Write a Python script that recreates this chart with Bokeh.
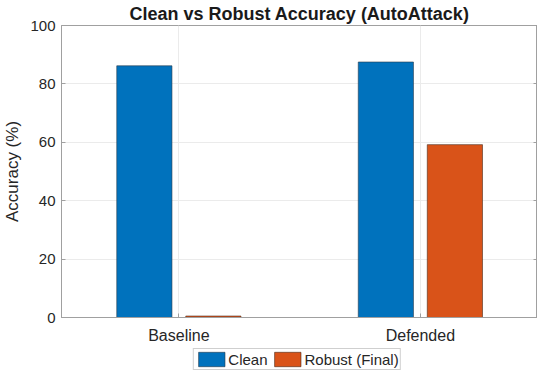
from bokeh.plotting import figure
from bokeh.layouts import column
from bokeh.models import (ColumnDataSource, FixedTicker, LinearAxis, Legend, LegendItem, Range1d)
from bokeh.transform import dodge
from bokeh.embed import file_html
from bokeh.resources import INLINE

categories = ["Baseline", "Defended"]
clean = [86.2, 87.5]
robust = [0.5, 59.2]
y_ticks = [0, 20, 40, 60, 80, 100]
series_names = ["Clean", "Robust (Final)"]

xs = list(range(1, len(categories) + 1))
src = ColumnDataSource(dict(x=xs, clean=clean, robust=robust))

FONT = "Liberation Sans"
TXT = "#262626"
AX = "#a0a0a0"
C_CLEAN = "#0072BD"
C_ROB = "#D95319"

p = figure(frame_width=476, frame_height=292, output_backend="svg", toolbar_location=None,
           x_range=Range1d(0.514, 2.485), y_range=Range1d(0, 100),
           min_border_left=0, min_border_right=0, min_border_top=0, min_border_bottom=0,
           title="Clean vs Robust Accuracy (AutoAttack)")
p.title.align = "center"
p.title.text_font = FONT
p.title.text_font_size = "18px"
p.title.text_font_style = "bold"
p.title.text_color = "#1a1a1a"
p.title.standoff = 3
p.title.offset = 0

p.outline_line_color = AX
p.outline_line_width = 1

w = 0.2286
r1 = p.vbar(x=dodge("x", -0.1429), top="clean", width=w, source=src,
            fill_color=C_CLEAN, line_color="#2a3a4a", line_width=0.6)
r2 = p.vbar(x=dodge("x", 0.1429), top="robust", width=w, source=src,
            fill_color=C_ROB, line_color="#4a2a1a", line_width=0.6)

xa = p.xaxis[0]
xa.ticker = FixedTicker(ticks=xs)
xa.major_label_overrides = {i + 1: c for i, c in enumerate(categories)}
xa.axis_label_standoff = 0
ya = p.yaxis[0]
ya.ticker = FixedTicker(ticks=y_ticks)
ya.axis_label = "Accuracy (%)"
for ax in (xa, ya):
    ax.axis_line_color = AX
    ax.major_tick_in = 4
    ax.major_tick_out = 0
    ax.major_tick_line_color = AX
    ax.minor_tick_line_color = None
    ax.major_label_text_font = FONT
    ax.major_label_text_color = TXT
    ax.major_label_standoff = 6
xa.major_label_standoff = 9
xa.major_label_text_font_size = "16px"
ya.major_label_text_font_size = "15px"
ya.axis_label_text_font = FONT
ya.axis_label_text_font_size = "17px"
ya.axis_label_text_font_style = "normal"
ya.axis_label_text_color = TXT
ya.axis_label_standoff = 5

ra = LinearAxis(ticker=FixedTicker(ticks=y_ticks),
                major_label_overrides={t: "" for t in y_ticks},
                major_label_standoff=0, axis_label_standoff=0,
                major_tick_in=4, major_tick_out=0,
                major_tick_line_color=AX, minor_tick_line_color=None,
                axis_line_color=AX)
p.add_layout(ra, "right")

p.xgrid.ticker = FixedTicker(ticks=xs)
p.xgrid.grid_line_color = "#ebebeb"
p.ygrid.grid_line_color = "#ebebeb"

# legend strip below the axes (proxy renderers sit outside the strip's range)
lg = figure(width=534, height=24, output_backend="svg", toolbar_location=None,
            x_range=Range1d(0, 1), y_range=Range1d(0, 1),
            min_border_left=54, min_border_right=2, min_border_top=0, min_border_bottom=0)
lg.axis.visible = False
lg.grid.visible = False
lg.outline_line_color = None
proxy = ColumnDataSource(dict(x=[-10], top=[0]))
l1 = lg.vbar(x="x", top="top", width=0.1, source=proxy,
             fill_color=C_CLEAN, line_color="#2a3a4a", line_width=0.6)
l2 = lg.vbar(x="x", top="top", width=0.1, source=proxy,
             fill_color=C_ROB, line_color="#4a2a1a", line_width=0.6)
legend = Legend(items=[LegendItem(label=series_names[0], renderers=[l1]),
                       LegendItem(label=series_names[1], renderers=[l2])],
                orientation="horizontal", location="bottom_center",
                label_text_font=FONT, label_text_font_size="15px", label_text_color=TXT,
                glyph_width=33, glyph_height=18, label_standoff=1, spacing=3,
                padding=1, margin=0, border_line_color=AX, border_line_width=1,
                label_height=18)
lg.add_layout(legend, "center")

layout = column(p, lg, spacing=0)
open("out.html", "w").write(file_html(layout, INLINE))
